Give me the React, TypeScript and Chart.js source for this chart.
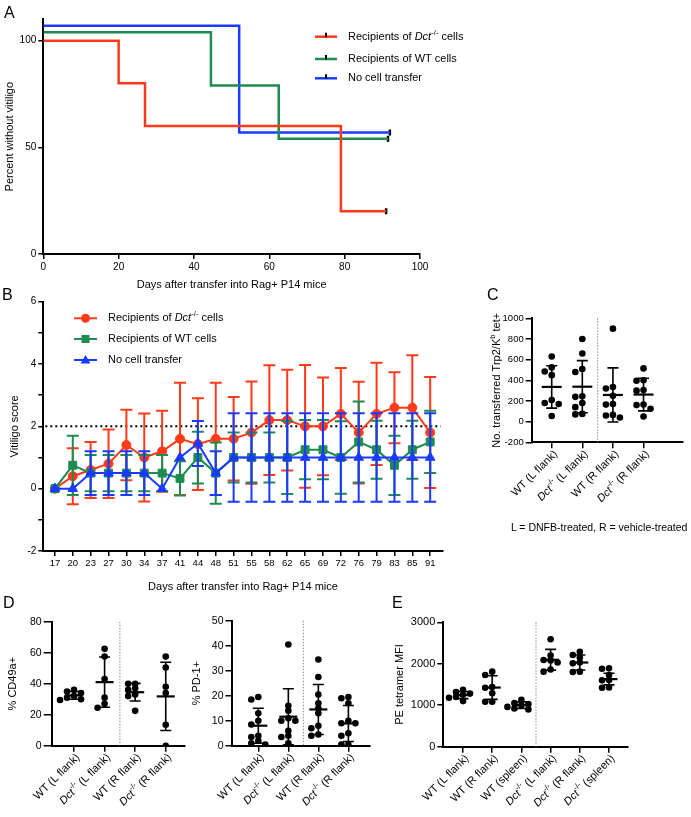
import React, { useEffect, useRef } from 'react';
import { Chart, registerables } from 'chart.js';
Chart.register(...registerables);

const FONT = "'Liberation Sans', Arial, Helvetica, sans-serif";
const RED = '#FF3A1A';
const GREEN = '#1E8C50';
const BLUE = '#1A3BFF';

// ---------- Panel A (Kaplan-Meier) ----------
const A_RED_DAYS = [0, 20, 27, 79, 91];
const A_RED_PCT = [100, 80, 60, 20, 20];
const A_GREEN_DAYS = [0, 44.5, 62.5, 91.5];
const A_GREEN_PCT = [104, 79, 54, 54];
const A_BLUE_DAYS = [0, 52, 92];
const A_BLUE_PCT = [107, 57, 57];
const A_X_TICKS = [0, 20, 40, 60, 80, 100];
const A_Y_TICKS = [0, 50, 100];
const LEGEND_LABELS = ['Recipients of Dct-/- cells', 'Recipients of WT cells', 'No cell transfer'];

// ---------- Panel B (vitiligo score) ----------
const B_DAYS = [17, 20, 23, 27, 30, 34, 37, 41, 44, 48, 51, 55, 58, 62, 65, 69, 72, 76, 79, 83, 85, 91];
const B_DCT_MEAN = [0, 0.4, 0.6, 0.8, 1.4, 1.0, 1.2, 1.6, 1.43, 1.6, 1.6, 1.8, 2.2, 2.2, 2.0, 2.0, 2.4, 1.8, 2.4, 2.6, 2.6, 1.8];
const B_DCT_SD = [0, 0.9, 0.9, 1.1, 1.13, 1.41, 1.3, 1.8, 1.47, 1.8, 1.34, 1.64, 1.76, 1.62, 1.97, 1.57, 1.47, 1.63, 1.64, 1.14, 1.68, 1.78];
const B_WT_MEAN = [0, 0.75, 0.5, 0.5, 0.5, 0.5, 0.5, 0.33, 1.0, 0.5, 1.0, 1.0, 1.0, 1.0, 1.25, 1.25, 1.0, 1.5, 1.25, 0.75, 1.25, 1.5];
const B_WT_SD = [0, 0.95, 0.58, 0.58, 0.58, 0.58, 0.58, 0.55, 0.83, 0.98, 0.8, 0.8, 0.8, 1.17, 0.95, 0.95, 1.16, 1.3, 0.93, 0.95, 0.93, 1.0];
const B_NONE_MEAN = [0, 0, 0.5, 0.5, 0.5, 0.5, 0, 1.0, 1.45, 0.5, 1, 1, 1, 1, 1, 1, 1, 1, 1, 1, 1, 1];
const B_NONE_SD = [0, 0, 0.7, 0.7, 0.7, 0.7, 0, 0, 0.72, 0.7, 1.42, 1.42, 1.42, 1.42, 1.42, 1.42, 1.42, 1.42, 1.42, 1.42, 1.42, 1.42];
const B_Y_TICKS = [-2, -1, 0, 1, 2, 3, 4, 5, 6];
const B_THRESHOLD = 2;

// ---------- Panel C ----------
const C_LABELS = ['WT (L flank)', 'Dct-/- (L flank)', 'WT (R flank)', 'Dct-/- (R flank)'];
const C_POINTS = [
  [630, 525, 485, 450, 210, 180, 170, 55],
  [800, 660, 510, 480, 245, 240, 180, 140, 75, 70],
  [900, 335, 320, 250, 170, 165, 65, 60, 40],
  [515, 400, 395, 305, 300, 165, 160, 125, 50],
];
const C_MEAN = [336, 338, 258, 262];
const C_SD = [205, 252, 262, 158];
const C_Y_TICKS = [-200, 0, 200, 400, 600, 800, 1000];

// ---------- Panel D ----------
const D_LABELS = ['WT (L flank)', 'Dct-/- (L flank)', 'WT (R flank)', 'Dct-/- (R flank)'];
const D1_POINTS = [
  [36, 35, 34, 32, 31, 30, 29.5],
  [62.5, 57.5, 43, 31, 27, 24.5],
  [40, 40, 37, 36, 33, 32, 22.5],
  [57.5, 50.5, 38, 34, 13.5, 0],
];
const D1_MEAN = [32.5, 41, 34.5, 31.8];
const D1_SD = [2.5, 16.2, 5.7, 22];
const D1_Y_TICKS = [0, 20, 40, 60, 80];
const D2_POINTS = [
  [19.5, 18.5, 13, 10, 8.5, 4, 3.5, 2, 1, 0.5],
  [40.5, 16, 14, 11, 10, 10, 6, 4, 3.5, 1],
  [34.5, 27.5, 20.5, 17, 15, 13, 8, 7, 4.5, 4],
  [19.5, 19, 17, 10, 9, 9, 5, 4, 0.5, 0.5],
];
const D2_MEAN = [8, 11.6, 14.5, 8.9];
const D2_SD = [7, 11.2, 10, 7.2];
const D2_Y_TICKS = [0, 10, 20, 30, 40, 50];

// ---------- Panel E ----------
const E_LABELS = ['WT (L flank)', 'WT (R flank)', 'WT (spleen)', 'Dct-/- (L flank)', 'Dct-/- (R flank)', 'Dct-/- (spleen)'];
const E_POINTS = [
  [1370, 1320, 1280, 1250, 1200, 1180, 1100],
  [1810, 1730, 1440, 1420, 1290, 1085, 1085],
  [1130, 1050, 1030, 1000, 960, 920, 900],
  [2590, 2200, 2090, 2080, 2030, 1860, 1810],
  [2290, 2210, 2150, 2030, 2010, 1810, 1800],
  [1890, 1880, 1730, 1610, 1600, 1430, 1420],
];
const E_MEAN = [1245, 1426, 1000, 2096, 2030, 1630];
const E_SD = [85, 285, 80, 250, 180, 140];
const E_Y_TICKS = [0, 1000, 2000, 3000];

// ---------- rich text helpers ----------
type Seg = { t: string; s?: 'i' | 'sup' };
function parseRich(label: string): Seg[] {
  const out: Seg[] = [];
  const re = /Dct-\/-|\^(\w)/g;
  let last = 0;
  let m: RegExpExecArray | null;
  while ((m = re.exec(label))) {
    if (m.index > last) out.push({ t: label.slice(last, m.index) });
    if (m[0].startsWith('Dct')) {
      out.push({ t: 'Dct', s: 'i' });
      out.push({ t: '-/-', s: 'sup' });
    } else out.push({ t: m[1], s: 'sup' });
    last = m.index + m[0].length;
  }
  if (last < label.length) out.push({ t: label.slice(last) });
  return out;
}
function segFont(s: Seg, size: number) {
  if (s.s === 'i') return `italic ${size}px ${FONT}`;
  if (s.s === 'sup') return `${(size * 0.7).toFixed(1)}px ${FONT}`;
  return `${size}px ${FONT}`;
}
function drawRich(ctx: CanvasRenderingContext2D, label: string, x: number, y: number, size: number, align: 'left' | 'right' | 'center') {
  const segs = parseRich(label);
  let w = 0;
  for (const s of segs) {
    ctx.font = segFont(s, size);
    w += ctx.measureText(s.t).width;
  }
  let cx = align === 'left' ? x : align === 'right' ? x - w : x - w / 2;
  ctx.fillStyle = '#000';
  ctx.textBaseline = 'middle';
  ctx.textAlign = 'left';
  for (const s of segs) {
    ctx.font = segFont(s, size);
    ctx.fillText(s.t, cx, s.s === 'sup' ? y - size * 0.38 : y);
    cx += ctx.measureText(s.t).width;
  }
}

function axisBase(tickSize: number, tickLen = 5, pad = 2) {
  return {
    border: { display: true, color: '#000', width: 2 },
    grid: { display: true, drawOnChartArea: false, drawTicks: true, tickLength: tickLen, color: '#000', lineWidth: 1.5 },
    ticks: { color: '#000', font: { family: FONT, size: tickSize }, padding: pad, maxRotation: 0, autoSkip: false, callback: (v: number) => String(v) },
  };
}

// ---------- legend plugin ----------
function legendPlugin(items: { label: string; color: string; marker?: string }[], ys: number[], x0: number, x1: number, textX: number, size: number, lw: number) {
  return {
    id: 'customLegend',
    afterDraw(chart: any) {
      const ctx: CanvasRenderingContext2D = chart.ctx;
      ctx.save();
      items.forEach((it, i) => {
        const y = ys[i];
        ctx.strokeStyle = it.color;
        ctx.lineWidth = lw;
        ctx.beginPath();
        ctx.moveTo(x0, y);
        ctx.lineTo(x1, y);
        ctx.stroke();
        const mx = (x0 + x1) / 2;
        if (!it.marker) {
          ctx.strokeStyle = '#000';
          ctx.lineWidth = 2;
          ctx.beginPath();
          ctx.moveTo(mx, y - 4);
          ctx.lineTo(mx, y + 0.5);
          ctx.stroke();
        } else {
          ctx.fillStyle = it.color;
          ctx.beginPath();
          if (it.marker === 'circle') ctx.arc(mx, y, 4.5, 0, Math.PI * 2);
          else if (it.marker === 'rect') ctx.rect(mx - 4, y - 4, 8, 8);
          else {
            ctx.moveTo(mx, y - 5);
            ctx.lineTo(mx + 5, y + 3.5);
            ctx.lineTo(mx - 5, y + 3.5);
            ctx.closePath();
          }
          ctx.fill();
        }
        drawRich(ctx, it.label, textX, y, size, 'left');
      });
      ctx.restore();
    },
  };
}

// ---------- Panel A config ----------
function configA(): any {
  const mk = (days: number[], pct: number[], color: string) => ({
    type: 'line',
    data: days.map((d, i) => ({ x: d, y: pct[i] })),
    borderColor: color,
    borderWidth: 2.5,
    stepped: 'before',
    pointRadius: 0,
    fill: false,
  });
  const last = (d: number[], p: number[]) => ({ x: d[d.length - 1], y: p[p.length - 1] });
  const base = axisBase(10);
  return {
    type: 'line',
    data: {
      datasets: [
        mk(A_RED_DAYS, A_RED_PCT, RED),
        mk(A_GREEN_DAYS, A_GREEN_PCT, GREEN),
        mk(A_BLUE_DAYS, A_BLUE_PCT, BLUE),
        {
          type: 'scatter',
          data: [last(A_RED_DAYS, A_RED_PCT), last(A_GREEN_DAYS, A_GREEN_PCT), last(A_BLUE_DAYS, A_BLUE_PCT)],
          pointStyle: 'line',
          rotation: 90,
          pointRadius: 3,
          borderColor: '#000',
          borderWidth: 2.5,
        },
      ],
    },
    options: {
      animation: false,
      responsive: false,
      devicePixelRatio: 1,
      events: [],
      layout: { padding: { left: 0, top: 9.33, right: 80, bottom: 2 } },
      plugins: { legend: { display: false }, tooltip: { enabled: false } },
      scales: {
        x: {
          type: 'linear', min: 0, max: 100, ...base,
          afterBuildTicks: (s: any) => { s.ticks = A_X_TICKS.map((v) => ({ value: v })); },
          afterFit: (s: any) => { s.height = 38; },
          title: { display: true, text: 'Days after transfer into Rag+ P14 mice', color: '#000', font: { family: FONT, size: 11 }, padding: { top: 0, bottom: 0.4 } },
        },
        y: {
          type: 'linear', min: 0, max: 110, ...base,
          afterBuildTicks: (s: any) => { s.ticks = A_Y_TICKS.map((v) => ({ value: v })); },
          afterFit: (s: any) => { s.width = 43.3; },
          title: { display: true, text: 'Percent without vitiligo', color: '#000', font: { family: FONT, size: 11 }, padding: { top: 3.4, bottom: 0 } },
        },
      },
    },
    plugins: [
      legendPlugin(
        [{ label: LEGEND_LABELS[0], color: RED }, { label: LEGEND_LABELS[1], color: GREEN }, { label: LEGEND_LABELS[2], color: BLUE }],
        [26.7, 49, 68.3], 315, 337, 348, 11, 2.5,
      ),
    ],
  };
}

// ---------- Panel B config ----------
function configB(): any {
  const base = axisBase(10);
  const sds = [B_DCT_SD, B_WT_SD, B_NONE_SD];
  const errPlugin = {
    id: 'errBars',
    beforeDatasetDraw(chart: any, args: any) {
      const sd = sds[args.index];
      if (!sd) return;
      const ds = chart.data.datasets[args.index];
      const y = chart.scales.y;
      const ctx: CanvasRenderingContext2D = chart.ctx;
      ctx.save();
      ctx.strokeStyle = ds.borderColor;
      ctx.lineWidth = 2;
      args.meta.data.forEach((el: any, j: number) => {
        const s = sd[j];
        if (!s) return;
        const m = ds.data[j].y;
        const yt = y.getPixelForValue(m + s);
        const yb = y.getPixelForValue(m - s);
        ctx.beginPath();
        ctx.moveTo(el.x, yt); ctx.lineTo(el.x, yb);
        ctx.moveTo(el.x - 6, yt); ctx.lineTo(el.x + 6, yt);
        ctx.moveTo(el.x - 6, yb); ctx.lineTo(el.x + 6, yb);
        ctx.stroke();
      });
      ctx.restore();
    },
  };
  const threshPlugin = {
    id: 'thresh',
    beforeDatasetsDraw(chart: any) {
      const ctx: CanvasRenderingContext2D = chart.ctx;
      const y = chart.scales.y.getPixelForValue(B_THRESHOLD);
      ctx.save();
      ctx.strokeStyle = '#000';
      ctx.lineWidth = 2;
      ctx.setLineDash([2, 3]);
      ctx.beginPath();
      ctx.moveTo(chart.chartArea.left + 2, y);
      ctx.lineTo(chart.chartArea.right - 2, y);
      ctx.stroke();
      ctx.restore();
    },
  };
  const mk = (mean: number[], color: string, style: string, r: number, order: number) => ({
    data: mean.map((m, i) => ({ x: i, y: m })),
    borderColor: color,
    backgroundColor: color,
    borderWidth: 2,
    pointStyle: style,
    pointRadius: r,
    pointBorderWidth: 1,
    order,
    fill: false,
  });
  return {
    type: 'line',
    data: {
      datasets: [
        mk(B_DCT_MEAN, RED, 'circle', 4.5, 2),
        mk(B_WT_MEAN, GREEN, 'rect', 5.6, 1),
        mk(B_NONE_MEAN, BLUE, 'triangle', 5.5, 0),
      ],
    },
    options: {
      animation: false,
      responsive: false,
      devicePixelRatio: 1,
      events: [],
      layout: { padding: { left: 0, top: 10.7, right: 9.3, bottom: 1.7 } },
      plugins: { legend: { display: false }, tooltip: { enabled: false } },
      scales: {
        x: {
          type: 'linear', min: -0.65, max: 21.7, ...base,
          ticks: { ...base.ticks, font: { family: FONT, size: 9.5 }, callback: (v: number) => String(B_DAYS[v]) },
          afterBuildTicks: (s: any) => { s.ticks = B_DAYS.map((_, i) => ({ value: i })); },
          afterFit: (s: any) => { s.height = 42.3; },
          title: { display: true, text: 'Days after transfer into Rag+ P14 mice', color: '#000', font: { family: FONT, size: 11 }, padding: { top: 0, bottom: 0 } },
        },
        y: {
          type: 'linear', min: -2, max: 6, ...base,
          ticks: { ...base.ticks, callback: (v: number) => (v % 2 === 0 ? String(v) : '') },
          afterBuildTicks: (s: any) => { s.ticks = B_Y_TICKS.map((v) => ({ value: v })); },
          afterFit: (s: any) => { s.width = 43.3; },
          title: { display: true, text: 'Vitiligo score', color: '#000', font: { family: FONT, size: 11 }, padding: { top: 8.4, bottom: 0 } },
        },
      },
    },
    plugins: [
      errPlugin,
      threshPlugin,
      legendPlugin(
        [
          { label: LEGEND_LABELS[0], color: RED, marker: 'circle' },
          { label: LEGEND_LABELS[1], color: GREEN, marker: 'rect' },
          { label: LEGEND_LABELS[2], color: BLUE, marker: 'triangle' },
        ],
        [27.3, 48, 69], 74, 97, 108, 11, 2,
      ),
    ],
  };
}

// ---------- dot plot helpers ----------
function swarm(vals: number[], pxPerY: number, pxPerX: number, step: number, diam: number) {
  const order = vals.map((_, i) => i).sort((a, b) => vals[b] - vals[a]);
  const placed: { v: number; o: number }[] = [];
  const offs: number[] = vals.map(() => 0);
  const cand = [0, -1, 1, -2, 2, -3, 3];
  for (const i of order) {
    for (const c of cand) {
      const o = c * step;
      if (placed.every((q) => Math.hypot(q.o - o, (q.v - vals[i]) * pxPerY) >= diam)) {
        offs[i] = o;
        placed.push({ v: vals[i], o });
        break;
      }
    }
  }
  return offs.map((o) => o / pxPerX);
}

interface DotP {
  labels: string[];
  points: number[][];
  mean: number[];
  sd: number[];
  yMin: number;
  yMax: number;
  yTicks: number[];
  xMin: number;
  xMax: number;
  sepAt: number;
  pad: { left: number; top: number; right: number; bottom: number };
  yAxisW: number;
  xAxisH: number;
  plotH: number;
  pxPerX: number;
  yTitle: string;
  yTitleX: number;
  tickSize: number;
  yTickLen: number;
  meanHalf: number;
}

function dotConfig(p: DotP): any {
  const pxPerY = p.plotH / (p.yMax - p.yMin);
  const data = p.points.flatMap((vals, ci) => {
    const offs = swarm(vals, pxPerY, p.pxPerX, 7, 4.6);
    return vals.map((v, k) => ({ x: ci + offs[k], y: v }));
  });
  const base = axisBase(p.tickSize, p.yTickLen, 2);
  const decor = {
    id: 'dotDecor',
    beforeDatasetsDraw(chart: any) {
      const ctx: CanvasRenderingContext2D = chart.ctx;
      const { chartArea } = chart;
      const sx = chart.scales.x.getPixelForValue(p.sepAt);
      ctx.save();
      ctx.strokeStyle = '#8c8c8c';
      ctx.lineWidth = 1;
      ctx.setLineDash([1.5, 1.5]);
      ctx.beginPath();
      ctx.moveTo(sx, chartArea.top);
      ctx.lineTo(sx, chartArea.bottom);
      ctx.stroke();
      ctx.restore();
    },
    afterDatasetsDraw(chart: any) {
      const ctx: CanvasRenderingContext2D = chart.ctx;
      const x = chart.scales.x;
      const y = chart.scales.y;
      ctx.save();
      ctx.strokeStyle = '#000';
      p.mean.forEach((m, i) => {
        const px = x.getPixelForValue(i);
        const ym = y.getPixelForValue(m);
        const yt = y.getPixelForValue(m + p.sd[i]);
        const yb = y.getPixelForValue(m - p.sd[i]);
        ctx.lineWidth = 1.6;
        ctx.beginPath();
        ctx.moveTo(px, yt); ctx.lineTo(px, yb);
        ctx.moveTo(px - 5.5, yt); ctx.lineTo(px + 5.5, yt);
        ctx.moveTo(px - 5.5, yb); ctx.lineTo(px + 5.5, yb);
        ctx.stroke();
        ctx.lineWidth = 2.2;
        ctx.beginPath();
        ctx.moveTo(px - p.meanHalf, ym); ctx.lineTo(px + p.meanHalf, ym);
        ctx.stroke();
      });
      ctx.restore();
    },
    afterDraw(chart: any) {
      const ctx: CanvasRenderingContext2D = chart.ctx;
      const x = chart.scales.x;
      const { chartArea } = chart;
      ctx.save();
      p.labels.forEach((lab, i) => {
        const px = x.getPixelForValue(i);
        ctx.save();
        ctx.translate(px + 4, chartArea.bottom + 10);
        ctx.rotate(-Math.PI / 4);
        drawRich(ctx, lab, 0, 0, 11, 'right');
        ctx.restore();
      });
      ctx.translate(p.yTitleX, (chartArea.top + chartArea.bottom) / 2);
      ctx.rotate(-Math.PI / 2);
      drawRich(ctx, p.yTitle, 0, 0, 11, 'center');
      ctx.restore();
    },
  };
  return {
    type: 'scatter',
    data: { datasets: [{ data, pointRadius: 3.3, backgroundColor: '#000', borderWidth: 0 }] },
    options: {
      animation: false,
      responsive: false,
      devicePixelRatio: 1,
      events: [],
      layout: { padding: p.pad },
      plugins: { legend: { display: false }, tooltip: { enabled: false } },
      scales: {
        x: {
          type: 'linear', min: p.xMin, max: p.xMax, ...axisBase(p.tickSize, 6, 2),
          ticks: { display: false },
          afterBuildTicks: (s: any) => { s.ticks = p.labels.map((_, i) => ({ value: i })); },
          afterFit: (s: any) => { s.height = p.xAxisH; },
        },
        y: {
          type: 'linear', min: p.yMin, max: p.yMax, ...base,
          afterBuildTicks: (s: any) => { s.ticks = p.yTicks.map((v) => ({ value: v })); },
          afterFit: (s: any) => { s.width = p.yAxisW; },
        },
      },
    },
    plugins: [decor],
  };
}

const configC = () => dotConfig({
  labels: C_LABELS, points: C_POINTS, mean: C_MEAN, sd: C_SD,
  yMin: -200, yMax: 1000, yTicks: C_Y_TICKS, xMin: -0.654, xMax: 4.28, sepAt: 1.5,
  pad: { left: 0, top: 10.3, right: 8.3, bottom: 10.7 }, yAxisW: 46.7, xAxisH: 70, plotH: 124, pxPerX: 30.6,
  yTitle: 'No. transferred Trp2/K^b tet+', yTitleX: 11.7, tickSize: 9.5, yTickLen: 6, meanHalf: 10,
});
const configD1 = () => dotConfig({
  labels: D_LABELS, points: D1_POINTS, mean: D1_MEAN, sd: D1_SD,
  yMin: 0, yMax: 80, yTicks: D1_Y_TICKS, xMin: -0.73, xMax: 3.63, sepAt: 1.5,
  pad: { left: 0, top: 10.7, right: 7, bottom: 1.3 }, yAxisW: 51.7, xAxisH: 70, plotH: 124, pxPerX: 30.57,
  yTitle: '% CD49a+', yTitleX: 13.3, tickSize: 10.5, yTickLen: 8, meanHalf: 9,
});
const configD2 = () => dotConfig({
  labels: D_LABELS, points: D2_POINTS, mean: D2_MEAN, sd: D2_SD,
  yMin: 0, yMax: 50, yTicks: D2_Y_TICKS, xMin: -0.893, xMax: 3.72, sepAt: 1.5,
  pad: { left: 0, top: 9.7, right: 5, bottom: 1.3 }, yAxisW: 41.5, xAxisH: 70, plotH: 125, pxPerX: 30.0,
  yTitle: '% PD-1+', yTitleX: 6.7, tickSize: 10.5, yTickLen: 6, meanHalf: 9,
});
const configE = () => dotConfig({
  labels: E_LABELS, points: E_POINTS, mean: E_MEAN, sd: E_SD,
  yMin: 0, yMax: 3000, yTicks: E_Y_TICKS, xMin: -0.675, xMax: 5.65, sepAt: 2.5,
  pad: { left: 0, top: 11.3, right: 63, bottom: 0.3 }, yAxisW: 55.3, xAxisH: 70, plotH: 124.4, pxPerX: 29.2,
  yTitle: 'PE tetramer MFI', yTitleX: 12, tickSize: 11, yTickLen: 6, meanHalf: 8.5,
});

function ChartBox(props: { left: number; top: number; width: number; height: number; make: () => any }) {
  const ref = useRef<HTMLCanvasElement>(null);
  useEffect(() => {
    const chart = new Chart(ref.current as HTMLCanvasElement, props.make());
    return () => chart.destroy();
  }, []);
  return (
    <canvas
      ref={ref}
      width={props.width}
      height={props.height}
      style={{ position: 'absolute', left: props.left, top: props.top, width: props.width, height: props.height }}
    />
  );
}

const letterStyle = (left: number, top: number): React.CSSProperties => ({
  position: 'absolute', left, top, fontFamily: FONT, fontSize: 16, lineHeight: '16px', color: '#000',
});

export default function App() {
  return (
    <div style={{ position: 'absolute', left: 0, top: 0, width: 691, height: 817, background: '#fff', overflow: 'hidden' }}>
      <ChartBox left={0} top={10} width={500} height={284} make={configA} />
      <ChartBox left={0} top={291} width={452} height={304} make={configB} />
      <ChartBox left={485} top={308} width={206} height={215} make={configC} />
      <ChartBox left={0} top={611} width={192} height={206} make={configD1} />
      <ChartBox left={190} top={611} width={185} height={206} make={configD2} />
      <ChartBox left={388} top={611} width={303} height={206} make={configE} />
      <div style={letterStyle(4, 5)}>A</div>
      <div style={letterStyle(2, 287)}>B</div>
      <div style={letterStyle(487, 287)}>C</div>
      <div style={letterStyle(3, 595)}>D</div>
      <div style={letterStyle(392, 595)}>E</div>
      <div style={{ position: 'absolute', left: 511, top: 521, fontFamily: FONT, fontSize: 10.5, color: '#000', whiteSpace: 'nowrap' }}>
        L = DNFB-treated, R = vehicle-treated
      </div>
    </div>
  );
}
